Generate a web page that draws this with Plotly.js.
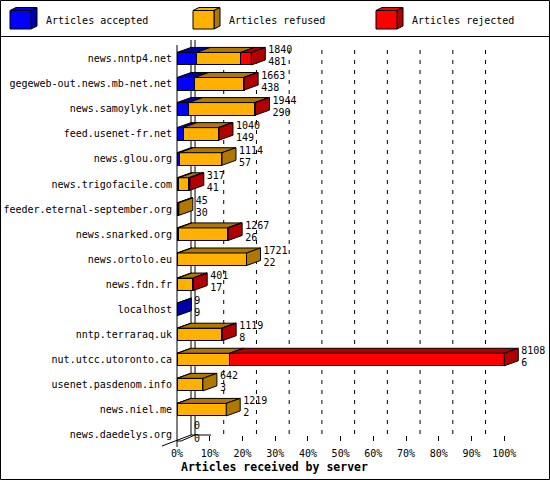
<!DOCTYPE html>
<html>
<head>
<meta charset="utf-8">
<script src="https://cdn.plot.ly/plotly-3.0.1.min.js"></script>
<style>html,body{margin:0;padding:0;background:#fff;}#chart{width:550px;height:480px;}</style>
</head>
<body>
<div id="chart"></div>
<script>
// ---- data ----
var servers = ['news.nntp4.net','gegeweb-out.news.mb-net.net','news.samoylyk.net','feed.usenet-fr.net','news.glou.org','news.trigofacile.com','feeder.eternal-september.org','news.snarked.org','news.ortolo.eu','news.fdn.fr','localhost','nntp.terraraq.uk','nut.utcc.utoronto.ca','usenet.pasdenom.info','news.niel.me','news.daedelys.org'];
var totals   = [1840,1663,1944,1040,1114,317,45,1267,1721,401,9,1119,8108,642,1219,0];
var accepted = [481,438,290,149,57,41,30,26,22,17,9,8,6,3,2,0];
var refused  = [1095,1210,1634,871,1057,246,15,1221,1699,374,0,1096,1294,639,1217,0];
var rejected = [264,15,20,20,0,30,0,20,0,10,0,15,6808,0,0,0];
var tickPct  = [0,10,20,30,40,50,60,70,80,90,100];
var seriesNames = ['Articles accepted','Articles refused','Articles rejected'];
var frontColors = ['#0000ff','#ffb000','#ff0000'];
var darkColors  = ['#0000a8','#b07800','#b00000'];

// ---- geometry (pixels) ----
var L = 177, T = 40, W = 360, B = 441, H = B - T;
var XMAX = 110;
var pxPerPct = W / XMAX;
var rowPx = 25.07, row0 = 58.7;
var yRange = [(B - row0) / rowPx, (T - row0) / rowPx];
var depthX = 14, depthY = 5;
var dxPct = depthX / pxPerPct;
var dyCat = depthY / rowPx;
var half = 0.25;
var labelGap = 3 / pxPerPct;
function px(x){ return (x - L) / W; }
function py(y){ return (B - y) / H; }

var maxTotal = Math.max.apply(null, totals);
function pct(v){ return v / maxTotal * 100; }

var idx = servers.map(function(_, i){ return i; });
var segs = [accepted, refused, rejected];

var traces = [];
// front faces
segs.forEach(function(arr, k){
  traces.push({
    type:'bar', orientation:'h', name: seriesNames[k],
    x: arr.map(function(v){ return v > 0 ? pct(v) : null; }),
    y: idx, width: 0.5,
    marker:{color: frontColors[k], line:{color:'#000', width:1}},
    hoverinfo:'skip', showlegend:false
  });
});
// top faces and side faces (3D)
var topX = [[],[],[]], topY = [[],[],[]], sideX = [[],[],[]], sideY = [[],[],[]];
idx.forEach(function(i){
  var start = 0, last = -1;
  var yT = i - half, yB = i + half;
  for (var k = 0; k < 3; k++) {
    var v = segs[k][i];
    if (v <= 0) continue;
    var s = pct(start), e = pct(start + v);
    topX[k].push(s, e, e + dxPct, s + dxPct, s, null);
    topY[k].push(yT, yT, yT - dyCat, yT - dyCat, yT, null);
    start += v; last = k;
  }
  if (last >= 0) {
    var e2 = pct(start);
    sideX[last].push(e2, e2, e2 + dxPct, e2 + dxPct, e2, null);
    sideY[last].push(yT, yB, yB - dyCat, yT - dyCat, yT, null);
  }
});
for (var k = 0; k < 3; k++) {
  traces.push({type:'scatter', mode:'lines', x: topX[k], y: topY[k], fill:'toself',
    fillcolor: darkColors[k], line:{color:'#000', width:1}, hoverinfo:'skip', showlegend:false});
  traces.push({type:'scatter', mode:'lines', x: sideX[k], y: sideY[k], fill:'toself',
    fillcolor: darkColors[k], line:{color:'#000', width:1}, hoverinfo:'skip', showlegend:false});
}
// value labels
var labelFont = {family:'DejaVu Sans Mono', size:10, color:'#000'};
traces.push({type:'scatter', mode:'text', x: totals.map(function(v){ return pct(v) + dxPct + labelGap; }),
  y: idx.map(function(i){ return i - 0.31; }), text: totals.map(String),
  textposition:'middle right', textfont: labelFont, cliponaxis:false, hoverinfo:'skip', showlegend:false});
traces.push({type:'scatter', mode:'text', x: totals.map(function(v){ return pct(v) + dxPct + labelGap; }),
  y: idx.map(function(i){ return i + 0.17; }), text: accepted.map(String),
  textposition:'middle right', textfont: labelFont, cliponaxis:false, hoverinfo:'skip', showlegend:false});

// ---- shapes ----
var shapes = [];
function line(x0,y0,x1,y1,dash,layer){
  shapes.push({type:'line', xref:'paper', yref:'paper', x0:px(x0), y0:py(y0), x1:px(x1), y1:py(y1),
    line:{color:'#000', width:1, dash: dash || 'solid'}, layer: layer || 'below'});
}
// outer border and legend separator
shapes.push({type:'rect', xref:'paper', yref:'paper', x0:px(0.5), y0:py(479.5), x1:px(549.5), y1:py(0.5),
  line:{color:'#000', width:1}, layer:'above'});
line(0, 36.5, 550, 36.5, 'solid', 'above');
// back walls / floor
var backL = L + depthX, backB = B - depthY - 1;
var frontR = L + pct(100) * pxPerPct;
var backR = frontR + depthX;
line(backL, T, backL, backB);
line(backR, T, backR, backB);
line(backL, backB, backR + 16, backB);
line(L, B, frontR, B);
line(frontR, B, backR, backB);
line(L - 15, B + 5, backL, backB);
line(L, T + 5, L, B + 6);
// dashed gridlines on back wall
tickPct.forEach(function(t){
  if (t === 0 || t === 100) return;
  var xg = L + t * pxPerPct + depthX;
  line(xg, T + 10, xg, backB, '4px,6px');
});
// legend cubes
var legX = [10, 193, 376], legTxt = [44, 227, 410];
var annotations = [];
for (var k = 0; k < 3; k++) {
  var x0 = legX[k], x1 = legX[k] + 21, y0 = 10.5, y1 = 29;
  var d = 6, e = 3;
  shapes.push({type:'path', xref:'paper', yref:'paper', layer:'above',
    path:'M'+px(x0)+','+py(y0)+' L'+px(x0+d)+','+py(y0-e)+' L'+px(x1+d)+','+py(y0-e)+' L'+px(x1)+','+py(y0)+' Z',
    fillcolor: frontColors[k], line:{color:'#000', width:1}});
  shapes.push({type:'path', xref:'paper', yref:'paper', layer:'above',
    path:'M'+px(x1)+','+py(y0)+' L'+px(x1+d)+','+py(y0-e)+' L'+px(x1+d)+','+py(y1-e)+' L'+px(x1)+','+py(y1)+' Z',
    fillcolor: darkColors[k], line:{color:'#000', width:1}});
  shapes.push({type:'rect', xref:'paper', yref:'paper', layer:'above',
    x0:px(x0), x1:px(x1), y0:py(y1), y1:py(y0),
    fillcolor: frontColors[k], line:{color:'#000', width:1}});
  annotations.push({xref:'paper', yref:'paper', x:px(legTxt[k]), y:py(21), xanchor:'left', yanchor:'middle',
    text: seriesNames[k], showarrow:false, font:labelFont});
}
annotations.push({xref:'paper', yref:'paper', x:px(179), y:py(467), xanchor:'left', yanchor:'middle',
  text:'<b>Articles received by server</b>', showarrow:false,
  font:{family:'DejaVu Sans Mono', size:11.5, color:'#000'}});

var layout = {
  width:550, height:480,
  margin:{l:L, r:550 - L - W, t:T, b:480 - B, pad:0},
  paper_bgcolor:'#fff', plot_bgcolor:'#fff',
  barmode:'stack', showlegend:false,
  xaxis:{range:[0, XMAX], tickvals: tickPct, ticktext: tickPct.map(function(t){ return t + '%'; }),
    showgrid:false, zeroline:false, showline:false, ticks:'inside', ticklen:5, tickcolor:'#000',
    tickfont: labelFont, ticklabelstandoff: 5, fixedrange:true},
  yaxis:{range: yRange, tickvals: idx, ticktext: servers, showgrid:false, zeroline:false,
    showline:false, ticks:'', tickfont: labelFont, ticklabelstandoff: 4, fixedrange:true},
  shapes: shapes, annotations: annotations,
  font:{family:'DejaVu Sans Mono', size:10, color:'#000'}
};
Plotly.newPlot('chart', traces, layout, {staticPlot:true, displayModeBar:false});
</script>
</body>
</html>
